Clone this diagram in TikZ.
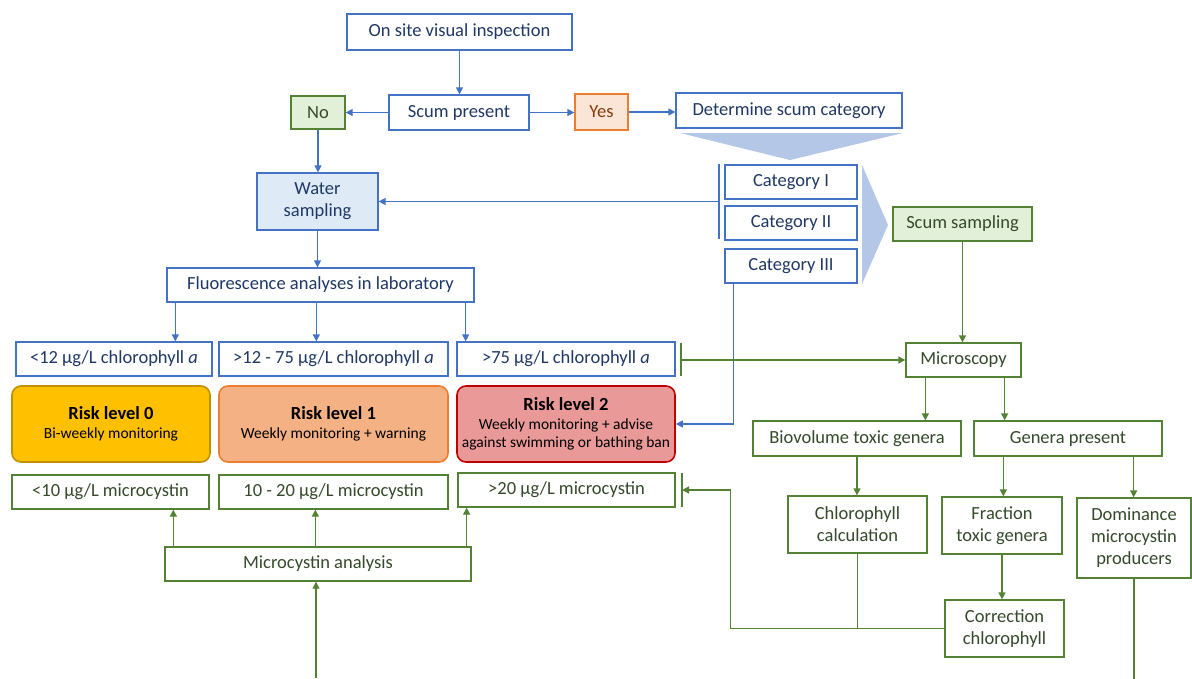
\documentclass[tikz,border=0pt]{standalone}
\usepackage{fontspec}
\setmainfont{Carlito}
\usetikzlibrary{arrows.meta,calc}
\definecolor{bl}{HTML}{4472C4}
\definecolor{bltext}{HTML}{1F3864}
\definecolor{gr}{HTML}{548235}
\definecolor{grtext}{HTML}{344A2A}
\definecolor{grfill}{HTML}{E2F0D9}
\definecolor{orfill}{HTML}{FBE5D6}
\definecolor{orline}{HTML}{ED7D31}
\definecolor{ortext}{HTML}{843C0C}
\definecolor{wfill}{HTML}{DEEBF7}
\definecolor{chev}{HTML}{B4C7E7}
\definecolor{rzfill}{HTML}{FFC000}
\definecolor{rzline}{HTML}{BF9000}
\definecolor{rofill}{HTML}{F4B183}
\definecolor{roline}{HTML}{ED7D31}
\definecolor{rtfill}{HTML}{EA9999}
\definecolor{rtline}{HTML}{C00000}
\newcommand\pbox[7]{\node[#1, minimum width={(#5-#3)*1pt}, minimum height={(#6-#4)*1pt}] (#2) at ({(#3+#5)/2},{(#4+#6)/2}) {#7};}
\tikzset{
  every node/.style={font=\fontsize{18.5}{22}\selectfont, inner sep=0pt, align=center},
  bbox/.style={draw=bl, line width=1.3pt, fill=white, text=bltext},
  wbox/.style={bbox, fill=wfill},
  gbox/.style={draw=gr, line width=1.3pt, fill=white, text=grtext},
  gfbox/.style={gbox, fill=grfill},
  nobox/.style={draw=gr, line width=1.3pt, fill=grfill, text=grtext},
  yesbox/.style={draw=orline, line width=1.3pt, fill=orfill, text=ortext},
  riskbox/.style={line width=1.6pt, rounded corners=9pt, text=black, font=\fontsize{15.5}{18.5}\selectfont},
  rzero/.style={riskbox, draw=rzline, fill=rzfill},
  rone/.style={riskbox, draw=roline, fill=rofill},
  rtwo/.style={riskbox, draw=rtline, fill=rtfill},
  bline/.style={draw=bl, line width=1.3pt},
  barrow/.style={bline, -{Triangle[length=7pt,width=7pt]}},
  gline/.style={draw=gr, line width=1.3pt},
  garrow/.style={gline, -{Triangle[length=7pt,width=7pt]}},
}
\newcommand\rtitle[1]{{\bfseries\fontsize{18.5}{21}\selectfont #1}}
\begin{document}
\begin{tikzpicture}[x=1pt,y=-1pt]
\useasboundingbox (0,0) rectangle (1192,678);
% chevrons
\fill[chev] (680,133) -- (903,133) -- (790,160) -- cycle;
\fill[chev] (862,165) -- (888,225) -- (862,284) -- cycle;
% blue part
\pbox{bbox}{osv}{347}{14}{572}{50}{On site visual inspection}
\pbox{bbox}{scum}{389}{95}{529}{130}{Scum present}
\pbox{nobox}{no}{291}{96}{345}{129}{No}
\pbox{yesbox}{yes}{575}{94}{628}{130}{Yes}
\pbox{bbox}{det}{676}{93}{902}{128}{Determine scum category}
\pbox{bbox}{c1}{725}{165}{857}{199}{Category I}
\pbox{bbox}{c2}{725}{206}{857}{240}{Category II}
\pbox{bbox}{c3}{725}{249}{857}{283}{Category III}
\pbox{wbox}{water}{257}{173}{378}{230}{Water\\sampling}
\pbox{bbox}{fl}{167}{268}{474}{302}{Fluorescence analyses in laboratory}
\pbox{bbox}{ch0}{16}{342}{212}{376}{<12 µg/L chlorophyll \textit{a}}
\pbox{bbox}{ch1}{219}{342}{448}{376}{>12 - 75 µg/L chlorophyll \textit{a}}
\pbox{bbox}{ch2}{457}{342}{675}{376}{>75 µg/L chlorophyll \textit{a}}
% risk
\pbox{rzero}{r0}{12}{386}{210}{462}{\rtitle{Risk level 0}\\Bi-weekly monitoring}
\pbox{rone}{r1}{219}{386}{448}{462}{\rtitle{Risk level 1}\\Weekly monitoring + warning}
\pbox{rtwo}{r2}{457}{386}{675}{462}{\rtitle{Risk level 2}\\Weekly monitoring + advise\\against swimming or bathing ban}
% microcystin
\pbox{gbox}{m0}{12}{475}{209}{509}{<10 µg/L microcystin}
\pbox{gbox}{m1}{219}{475}{448}{509}{10 - 20 µg/L microcystin}
\pbox{gbox}{m2}{458}{473}{675}{507}{>20 µg/L microcystin}
\pbox{gbox}{mca}{165}{547}{471}{581}{Microcystin analysis}
% right side
\pbox{gfbox}{ss}{893}{207}{1032}{241}{Scum sampling}
\pbox{gbox}{micro}{906}{343}{1021}{377}{Microscopy}
\pbox{gbox}{bio}{753}{421}{961}{456}{Biovolume toxic genera}
\pbox{gbox}{gen}{974}{421}{1162}{456}{Genera present}
\pbox{gbox}{chlc}{788}{496}{927}{553}{Chlorophyll\\calculation}
\pbox{gbox}{frac}{942}{497}{1062}{554}{Fraction\\toxic genera}
\pbox{gbox}{dom}{1077}{498}{1191}{578}{Dominance\\microcystin\\producers}
\pbox{gbox}{corr}{945}{600}{1064}{657}{Correction\\chlorophyll}
% blue connectors
\draw[barrow] (osv.south) -- (osv.south |- scum.north);
\draw[barrow] (scum.west) -- (no.east);
\draw[barrow] (scum.east) -- (scum.east -| yes.west);
\draw[barrow] (yes.east) -- (yes.east -| det.west);
\draw[barrow] (no.south) -- (no.south |- water.north);
\coordinate (bt) at (719,164);
\coordinate (bb) at (719,239);
\coordinate (bm) at (719,201.5);
\draw[bline] (bt) -- (bb);
\draw[barrow] (bm) -- (water.east);
\draw[barrow] (water.south) -- (water.south |- fl.north);
\path (fl.south west) ++(9,0) coordinate (fa);
\path (fl.south west) ++(150,0) coordinate (fb);
\path (fl.south east) ++(-9,0) coordinate (fc);
\draw[barrow] (fa) -- (fa |- ch0.north);
\draw[barrow] (fb) -- (fb |- ch1.north);
\draw[barrow] (fc) -- (fc |- ch2.north);
\path (c3.south west) ++(9,0) coordinate (cq);
\draw[barrow] (cq) |- (r2.east);
% green connectors
\coordinate (gt1) at (681,343);
\coordinate (gb1) at (681,376);
\draw[gline] (gt1) -- (gb1);
\draw[garrow] (micro.west -| gt1) -- (micro.west);
\draw[garrow] (ss.south) -- (ss.south |- micro.north);
\path (micro.south west) ++(20,0) coordinate (ma);
\path (micro.south east) ++(-17,0) coordinate (mb);
\draw[garrow] (ma) -- (ma |- bio.north);
\draw[garrow] (mb) -- (mb |- gen.north);
\draw[garrow] (bio.south) -- (bio.south |- chlc.north);
\path (gen.south west) ++(30,0) coordinate (ga);
\path (gen.south east) ++(-29,0) coordinate (gb);
\draw[garrow] (ga) -- (ga |- frac.north);
\draw[garrow] (gb) -- (gb |- dom.north);
\draw[garrow] (frac.south) -- (frac.south |- corr.north);
\draw[gline] (chlc.south) -- (chlc.south |- corr.west);
\coordinate (gt2) at (682,473);
\coordinate (gb2) at (682,507);
\draw[gline] (gt2) -- (gb2);
\draw[garrow] (corr.west) -- ++(-214,0) |- (m2.east -| gt2);
\draw[gline] (dom.south) -- ++(0,100);
\coordinate (bot) at (316,678);
\draw[garrow] (bot) -- (bot |- mca.south);
\path (mca.north west) ++(9,0) coordinate (ua);
\path (mca.north west) ++(151,0) coordinate (ub);
\path (mca.north east) ++(-5,0) coordinate (uc);
\draw[garrow] (ua) -- (ua |- m0.south);
\draw[garrow] (ub) -- (ub |- m1.south);
\draw[garrow] (uc) -- (uc |- m2.south);
\end{tikzpicture}
\end{document}
